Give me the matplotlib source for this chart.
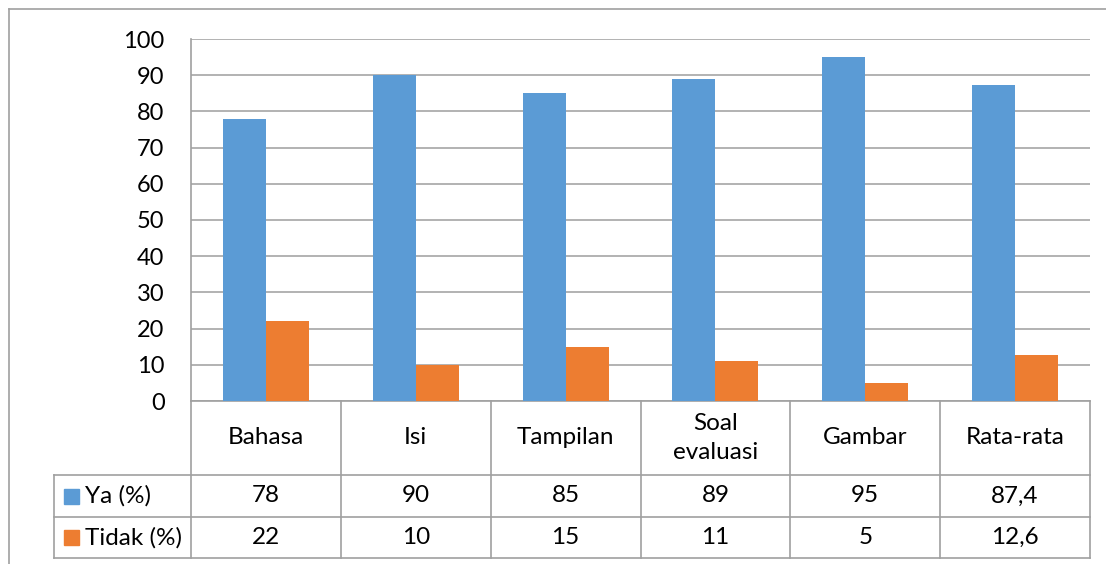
import matplotlib
matplotlib.use("Agg")
import matplotlib.pyplot as plt
from matplotlib.lines import Line2D
from matplotlib.patches import Rectangle
import numpy as np

categories = ["Bahasa", "Isi", "Tampilan", "Soal\nevaluasi", "Gambar", "Rata-rata"]
ya = [78, 90, 85, 89, 95, 87.4]
tidak = [22, 10, 15, 11, 5, 12.6]
series_names = ["Ya (%)", "Tidak (%)"]
yticks = [0, 10, 20, 30, 40, 50, 60, 70, 80, 90, 100]

blue = "#5B9BD5"
orange = "#ED7D31"
grid_col = "#A6A6A6"
line_col = "#A0A0A0"

plt.rcParams["font.family"] = ["Lato", "DejaVu Sans"]
fs = 17.5

W, H = 1106, 564
fig = plt.figure(figsize=(W / 100, H / 100), dpi=100)
ax = fig.add_axes([191 / W, 1 - 401 / H, (1090 - 191) / W, (401 - 39) / H])

x = np.arange(len(categories))
bw = 0.287
ax.bar(x - bw / 2, ya, bw, color=blue, zorder=3)
ax.bar(x + bw / 2, tidak, bw, color=orange, zorder=3)

ax.set_xlim(-0.5, len(categories) - 0.5)
ax.set_ylim(0, 100)
ax.set_yticks(yticks)
ax.set_yticklabels([str(t) for t in yticks], fontsize=17)
ax.set_xticks([])
ax.tick_params(axis="y", length=0, pad=19)
ax.yaxis.grid(True, color=grid_col, linewidth=1.2, zorder=0)
for s in ["top", "right", "bottom"]:
    ax.spines[s].set_visible(False)
ax.spines["left"].set_color(line_col)
ax.spines["left"].set_linewidth(1.2)

# data table under the plot (axes y coordinates)
trans = ax.get_xaxis_transform()
y_head = -74 / 362
y_r1 = -116 / 362
y_r2 = -157 / 362
x_lab = -0.5 - 137 / 149.8
kw = dict(transform=trans, clip_on=False, color=line_col, linewidth=1.2)

# horizontal lines
ax.add_line(Line2D([-0.5, 5.5], [0, 0], **kw))
for yy in [y_head, y_r1, y_r2]:
    ax.add_line(Line2D([x_lab, 5.5], [yy, yy], **kw))
# vertical lines
ax.add_line(Line2D([x_lab, x_lab], [y_head, y_r2], **kw))
for b in np.arange(len(categories) + 1) - 0.5:
    ax.add_line(Line2D([b, b], [0, y_r2], **kw))

for i, c in enumerate(categories):
    ax.text(i, y_head / 2, c, transform=trans, ha="center", va="center",
            fontsize=fs, linespacing=1.45)
    ax.text(i, (y_head + y_r1) / 2, str(ya[i]).replace(".", ","), transform=trans,
            ha="center", va="center", fontsize=fs)
    ax.text(i, (y_r1 + y_r2) / 2, str(tidak[i]).replace(".", ","), transform=trans,
            ha="center", va="center", fontsize=fs)

sq = 15 / 149.8
sqh = 15 / 362
for (y0, y1), name, col in zip([(y_head, y_r1), (y_r1, y_r2)], series_names, [blue, orange]):
    ym = (y0 + y1) / 2
    ax.add_patch(Rectangle((x_lab + 10 / 149.8, ym - sqh / 2), sq, sqh, transform=trans,
                           color=col, clip_on=False))
    ax.text(x_lab + 31 / 149.8, ym, name, transform=trans, ha="left", va="center",
            fontsize=fs)

# outer chart frame
fig.add_artist(Line2D([9 / W, 9 / W], [0, 1 - 9 / H], color=line_col, linewidth=1.2))
fig.add_artist(Line2D([9 / W, 1], [1 - 9 / H, 1 - 9 / H], color=line_col, linewidth=1.2))

fig.savefig("out.png", dpi=100)
